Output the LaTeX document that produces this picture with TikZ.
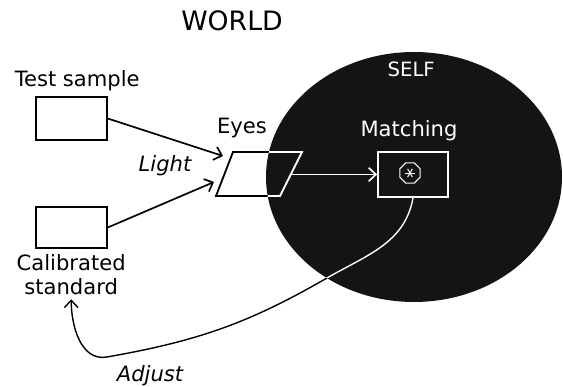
\documentclass[tikz,border=0pt]{standalone}
\usepackage{fontspec}
\setmainfont{DejaVu Sans}
\usetikzlibrary{arrows.meta,shapes.geometric}
\definecolor{SelfBlack}{HTML}{141414}

\begin{document}
\begin{tikzpicture}[x=1cm,y=1cm,
  box/.style={draw,line width=1.3pt,minimum width=1.775cm,minimum height=1.075cm,inner sep=0pt},
  lbl/.style={font=\fontsize{15}{16.5}\selectfont,align=center},
  itlbl/.style={font=\fontsize{15}{16.5}\selectfont\itshape},
  arr/.style={line width=1.2pt,-{Straight Barb[length=1.8mm,width=3.4mm]}}]
\path[use as bounding box] (0,0) rectangle (14.075,9.675);
% the self
\fill[SelfBlack] (10.35,5.25) ellipse [x radius=3.7,y radius=3.125];
\node[lbl,font=\fontsize{19}{19}\selectfont] (world) at (5.80,9.15) {WORLD};
\node[lbl,font=\fontsize{14}{14}\selectfont,text=white] (self) at (10.28,7.95) {SELF};
% world side
\node[lbl] (testtxt) at (1.93,7.67) {Test sample};
\node[box] (test) at (1.79,6.71) {};
\node[box,minimum height=1.025cm] (calib) at (1.79,3.99) {};
\node[lbl] (calibtxt) at (1.78,2.81) {Calibrated\\standard};
\node[itlbl] (light) at (4.125,5.525) {Light};
\node[itlbl] (adjust) at (3.75,0.275) {Adjust};
% eyes
\node[lbl] (eyestxt) at (6.05,6.475) {Eyes};
\coordinate (eyesTL) at (5.825,5.875);
\coordinate (eyesTR) at (7.55,5.875);
\coordinate (eyesBR) at (7.00,4.775);
\coordinate (eyesBL) at (5.40,4.775);
\coordinate (eyesin1) at (5.575,5.775);
\coordinate (eyesin2) at (5.35,5.125);
\coordinate (eyesout) at (7.29,5.3125);
\coordinate (bend1) at (8.175,2.725);
\coordinate (bend2) at (2.675,0.75);
\draw[line width=1.3pt] (eyesTL) -- (eyesTR) -- (eyesBR) -- (eyesBL) -- cycle;
% matching
\node[lbl,text=white] (matchtxt) at (10.225,6.4) {Matching};
\node[box,draw=white,minimum width=1.75cm,minimum height=1.125cm] (match) at (10.325,5.3125) {};
\node[regular polygon,regular polygon sides=8,draw=white,line width=0.8pt,minimum size=0.55cm,inner sep=0pt] (dial) at (10.25,5.35) {};
\foreach \a in {0,60,120}
  \draw[white,line width=0.7pt] (dial.center) ++(\a:0.12) -- ++(\a+180:0.24);
% connectors
\draw[arr] (test.east) -- (eyesin1);
\draw[arr] (calib.east) -- (eyesin2);
\draw[arr,white] (eyesout) -- (match.west);
\draw[arr,line width=1pt] (match.south) to[out=-100,in=30] (bend1)
  to[out=-150,in=10] (bend2) to[out=190,in=-90] (calibtxt.south);
\begin{scope}
\clip (10.35,5.25) ellipse [x radius=3.7,y radius=3.125];
\draw[white,line width=1.3pt] (eyesTL) -- (eyesTR) -- (eyesBR) -- (eyesBL) -- cycle;
\draw[white,line width=1pt] (match.south) to[out=-100,in=30] (bend1)
  to[out=-150,in=10] (bend2);
\end{scope}
\end{tikzpicture}
\end{document}
